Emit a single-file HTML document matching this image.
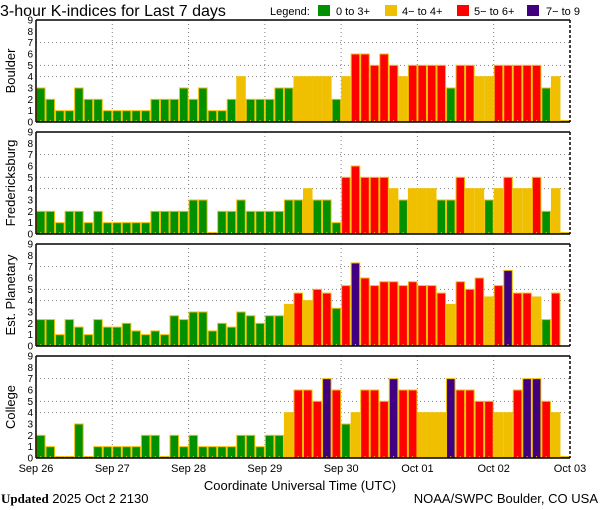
<!DOCTYPE html>
<html><head><meta charset="utf-8"><style>
html,body{margin:0;padding:0;background:#fff;}
svg{display:block;font-family:"Liberation Sans",sans-serif;}
</style></head><body>
<svg id="chart" width="600" height="510" viewBox="0 0 600 510" xmlns="http://www.w3.org/2000/svg">
<text x="0" y="16" font-size="16" fill="#000">3-hour K-indices for Last 7 days</text>
<g font-size="11">
<text x="270" y="15">Legend:</text>
<rect x="318" y="5" width="12" height="11" fill="#009000"/>
<text x="336" y="15">0 to 3+</text>
<rect x="385" y="5" width="12" height="11" fill="#f0c000"/>
<text x="402" y="15">4− to 4+</text>
<rect x="457" y="5" width="12" height="11" fill="#ff0000"/>
<text x="474" y="15">5− to 6+</text>
<rect x="527" y="5" width="12" height="11" fill="#400080"/>
<text x="546" y="15">7− to 9</text>
</g>
<text x="300" y="490" font-size="13" text-anchor="middle">Coordinate Universal Time (UTC)</text>
<text x="1" y="503" font-size="13"><tspan font-family="Liberation Serif,serif" font-weight="bold">Updated</tspan> 2025 Oct  2 2130</text>
<text x="598" y="503" font-size="13" text-anchor="end">NOAA/SWPC Boulder, CO USA</text>
</svg>
<script>
const stations = ["Boulder","Fredericksburg","Est. Planetary","College"];
const dayLabels = ["Sep 26","Sep 27","Sep 28","Sep 29","Sep 30","Oct 01","Oct 02","Oct 03"];
const yTicks = [0,1,2,3,4,5,6,7,8,9];
const boulder = [3,2,1,1,3,2,2,1,1,1,1,1,2,2,2,3,2,3,1,1,2,4,2,2,2,3,3,4,4,4,4,2,4,6,6,5,6,5,4,5,5,5,5,3,5,5,4,4,5,5,5,5,5,3,4,0];
const fredericksburg = [2,2,1,2,2,1,2,1,1,1,1,1,2,2,2,2,3,3,0,2,2,3,2,2,2,2,3,3,4,3,3,1,5,6,5,5,5,4,3,4,4,4,3,3,5,4,4,3,4,5,4,4,5,2,4,0];
const planetary = [2.33,2.33,1,2.33,1.67,1,2.33,1.67,1.67,2,1.33,1,1.33,1,2.67,2.33,3,3,1.33,2,1.67,3,2.67,2,2.67,2.67,3.67,4.67,4,5,4.67,3.33,5.33,7.33,6,5.33,5.67,5.67,5.33,5.67,5.33,5.33,4.67,3.67,5.67,5,6,4.33,5.33,6.67,4.67,4.67,4.33,2.33,4.67,null];
const college = [2,1,0,0,3,0,1,1,1,1,1,2,2,0,2,1,2,1,1,1,1,2,2,1,2,2,4,6,6,5,7,6,3,4,6,6,5,7,6,6,4,4,4,7,6,6,5,5,4,4,6,7,7,5,4,0];
const series = [boulder,fredericksburg,planetary,college];

const NS="http://www.w3.org/2000/svg";
const svg=document.getElementById('chart');
const X0=36,X1=570,N=56,PH=102;
const tops=[20,132,244,356];
function xScale(i){return X0+(X1-X0)*i/N;}
function yScale(v,top){return top+PH-v*PH/9;}
function colorFor(v){if(v<3.5)return "#009000";if(v<4.5)return "#f0c000";if(v<6.5)return "#ff0000";return "#400080";}
function mk(tag,attrs){const e=document.createElementNS(NS,tag);for(const k in attrs)e.setAttribute(k,attrs[k]);return e;}

stations.forEach((name,p)=>{
  const top=tops[p];
  const g=mk('g',{});
  
  
  svg.appendChild(g);
  // grid
  [4,5,7].forEach(v=>{
    const l=mk('line',{x1:X0,x2:X1,y1:yScale(v,top),y2:yScale(v,top),stroke:'#808080','stroke-dasharray':'1,3','stroke-width':1});
    
    
    g.appendChild(l);
  });
  for(let d=1;d<7;d++){
    const x=xScale(d*8);
    const l=mk('line',{x1:x,x2:x,y1:top,y2:top+PH,stroke:'#808080','stroke-dasharray':'1,3','stroke-width':1});
    
    
    g.appendChild(l);
  }
  // bars
  series[p].forEach((v,i)=>{
    if(v===null)return;
    const x=xScale(i),w=xScale(i+1)-x;
    const y=v===0?top+PH-1.5:yScale(v,top);
    const r=mk('rect',{x:x+0.5,y:y,width:w-1,height:top+PH-y,fill:colorFor(v),stroke:'#f0c000','stroke-width':1});
    
    
    g.appendChild(r);
    const t=mk('rect',{x:x+w/2-0.5,y:top+PH-2,width:1,height:2,fill:'#f0c000'});
    
    
    g.appendChild(t);
  });
  // frame
  const fr=[[X0,top,X1,top,'none'],[X0,top+PH,X1,top+PH,'none'],[X0,top,X0,top+PH,'none'],[X1,top,X1,top+PH,'3,2']];
  fr.forEach(f=>{
    const l=mk('line',{x1:f[0],y1:f[1],x2:f[2],y2:f[3],stroke:'#000','stroke-width':1.5});
    if(f[4]!=='none')l.setAttribute('stroke-dasharray',f[4]);
    
    
    g.appendChild(l);
  });
  yTicks.forEach(v=>{
    const t=mk('text',{x:33,y:yScale(v,top)+3.5,'font-size':10,'text-anchor':'end'});
    t.textContent=v;
    
    
    g.appendChild(t);
  });
  const cy=top+PH/2;
  const lab=mk('text',{x:0,y:0,'font-size':13,'text-anchor':'middle',transform:`translate(15,${cy}) rotate(-90)`});
  lab.textContent=name;
  
  
  g.appendChild(lab);
});
dayLabels.forEach((d,i)=>{
  const t=mk('text',{x:xScale(i*8),y:472,'font-size':11,'text-anchor':'middle'});
  t.textContent=d;
  
  
  svg.appendChild(t);
});
</script>
</body></html>
